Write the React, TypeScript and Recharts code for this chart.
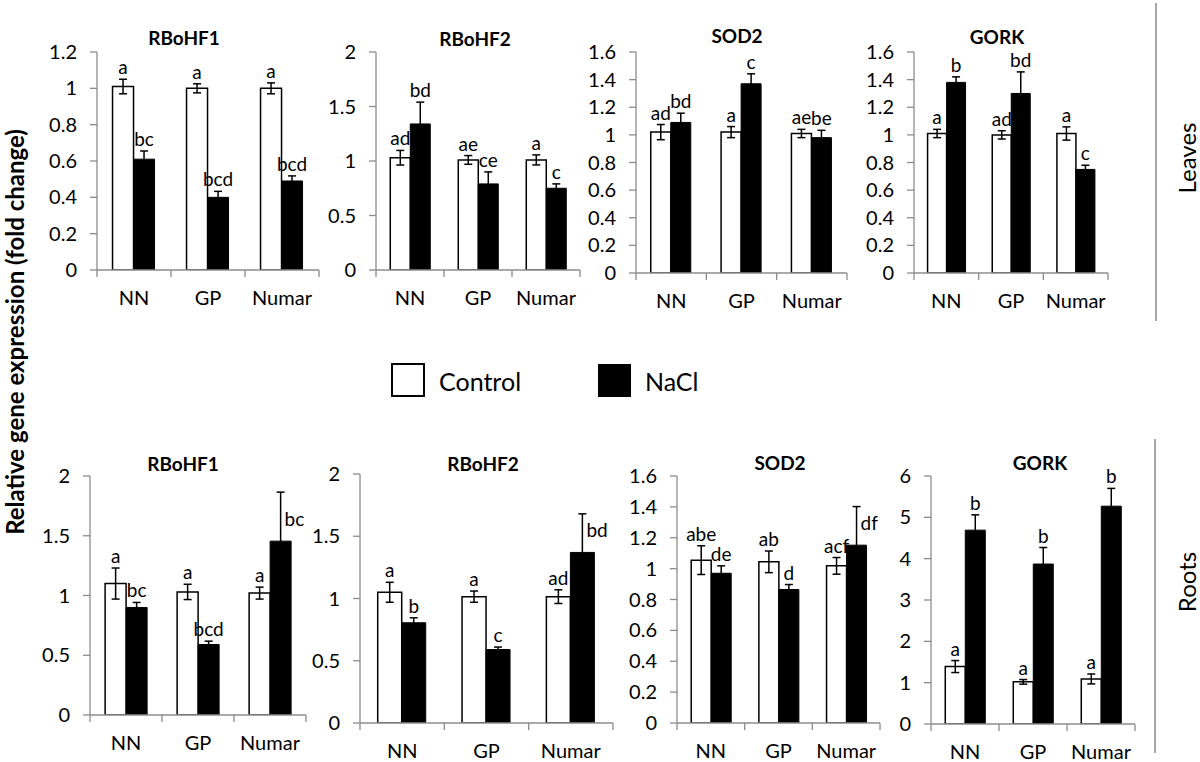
import React from 'react';
import { BarChart, Bar, XAxis, YAxis, ErrorBar, LabelList } from 'recharts';

const FONT = 'Lato, "Liberation Sans", sans-serif';
const AXIS_GREY = '#8c8c8c';

const categories = ['NN', 'GP', 'Numar'];

// ---- Leaves ----
const leafRboh1Control = [1.01, 1.0, 1.0];
const leafRboh1ControlErr = [0.04, 0.025, 0.03];
const leafRboh1Nacl = [0.61, 0.4, 0.49];
const leafRboh1NaclErr = [0.045, 0.033, 0.028];
const leafRboh1ControlLetters = ['a', 'a', 'a'];
const leafRboh1NaclLetters = ['bc', 'bcd', 'bcd'];

const leafRboh2Control = [1.03, 1.01, 1.01];
const leafRboh2ControlErr = [0.067, 0.04, 0.046];
const leafRboh2Nacl = [1.34, 0.79, 0.75];
const leafRboh2NaclErr = [0.2, 0.11, 0.04];
const leafRboh2ControlLetters = ['ad', 'ae', 'a'];
const leafRboh2NaclLetters = ['bd', 'ce', 'c'];

const leafSodControl = [1.02, 1.02, 1.01];
const leafSodControlErr = [0.055, 0.04, 0.03];
const leafSodNacl = [1.09, 1.37, 0.98];
const leafSodNaclErr = [0.067, 0.072, 0.053];
const leafSodControlLetters = ['ad', 'a', 'ae'];
const leafSodNaclLetters = ['bd', 'c', 'be'];

const leafGorkControl = [1.01, 1.0, 1.01];
const leafGorkControlErr = [0.03, 0.03, 0.048];
const leafGorkNacl = [1.38, 1.3, 0.75];
const leafGorkNaclErr = [0.04, 0.156, 0.03];
const leafGorkControlLetters = ['a', 'ad', 'a'];
const leafGorkNaclLetters = ['b', 'bd', 'c'];

// ---- Roots ----
const rootRboh1Control = [1.1, 1.03, 1.02];
const rootRboh1ControlErr = [0.13, 0.064, 0.05];
const rootRboh1Nacl = [0.9, 0.59, 1.455];
const rootRboh1NaclErr = [0.042, 0.028, 0.41];
const rootRboh1ControlLetters = ['a', 'a', 'a'];
const rootRboh1NaclLetters = ['bc', 'bcd', 'bc'];

const rootRboh2Control = [1.05, 1.015, 1.015];
const rootRboh2ControlErr = [0.08, 0.045, 0.055];
const rootRboh2Nacl = [0.805, 0.59, 1.37];
const rootRboh2NaclErr = [0.04, 0.02, 0.31];
const rootRboh2ControlLetters = ['a', 'a', 'ad'];
const rootRboh2NaclLetters = ['b', 'c', 'bd'];

const rootSodControl = [1.055, 1.044, 1.018];
const rootSodControlErr = [0.093, 0.07, 0.054];
const rootSodNacl = [0.97, 0.865, 1.152];
const rootSodNaclErr = [0.048, 0.032, 0.25];
const rootSodControlLetters = ['abe', 'ab', 'acf'];
const rootSodNaclLetters = ['de', 'd', 'df'];

const rootGorkControl = [1.39, 1.02, 1.09];
const rootGorkControlErr = [0.145, 0.056, 0.12];
const rootGorkNacl = [4.69, 3.87, 5.27];
const rootGorkNaclErr = [0.37, 0.4, 0.43];
const rootGorkControlLetters = ['a', 'a', 'a'];
const rootGorkNaclLetters = ['b', 'b', 'b'];

// tick labels
const ticks12 = [0, 0.2, 0.4, 0.6, 0.8, 1, 1.2];
const ticks16 = [0, 0.2, 0.4, 0.6, 0.8, 1, 1.2, 1.4, 1.6];
const ticks2 = [0, 0.5, 1, 1.5, 2];
const ticks6 = [0, 1, 2, 3, 4, 5, 6];

const Y_AXIS_W = 62;
const M_TOP = 34;
const M_RIGHT = 12;
const X_AXIS_H = 40;

// Excel-style category axis: label in the middle, tick marks on the category edges
function CatTick(props: any) {
  const { x, y, payload, index, bandW } = props;
  const left = x - bandW / 2;
  const right = x + bandW / 2;
  return (
    <g>
      <line x1={left} x2={left} y1={y} y2={y + 7} stroke={AXIS_GREY} strokeWidth={1.3} />
      {index === categories.length - 1 && (
        <line x1={right} x2={right} y1={y} y2={y + 7} stroke={AXIS_GREY} strokeWidth={1.3} />
      )}
      <text x={x} y={y + 35} textAnchor="middle" fontSize={20} fontFamily={FONT} fill="#000">
        {payload.value}
      </text>
    </g>
  );
}

type PanelProps = {
  title: string;
  yTicks: number[];
  control: number[];
  controlErr: number[];
  nacl: number[];
  naclErr: number[];
  controlLetters: string[];
  naclLetters: string[];
  axisX: number;
  right: number;
  top: number;
  bottom: number;
  titleX: number;
  titleY: number;
};

function Panel(p: PanelProps) {
  const plotW = p.right - p.axisX;
  const plotH = p.bottom - p.top;
  const yMax = p.yTicks[p.yTicks.length - 1];
  const data = categories.map((name, i) => ({
    name,
    control: p.control[i],
    controlErr: p.controlErr[i],
    nacl: p.nacl[i],
    naclErr: p.naclErr[i],
  }));

  const letter = (letters: string[], errs: number[]) => (props: any) => {
    const { x, y, width, index } = props;
    const cx = Number(x) + Number(width) / 2;
    const err = errs[index];
    // long whiskers: letter sits beside the whisker, just above the bar
    if (err / yMax > 0.12) {
      return (
        <text x={cx + 4} y={Number(y) - 15} textAnchor="start" fontSize={19} fontFamily={FONT} fill="#000">
          {letters[index]}
        </text>
      );
    }
    const errPx = (err / yMax) * plotH;
    return (
      <text x={cx} y={Number(y) - errPx - 5} textAnchor="middle" fontSize={19} fontFamily={FONT} fill="#000">
        {letters[index]}
      </text>
    );
  };

  return (
    <>
      <div style={{ position: 'absolute', left: p.axisX - Y_AXIS_W, top: p.top - M_TOP }}>
        <BarChart
          width={Y_AXIS_W + plotW + M_RIGHT}
          height={M_TOP + plotH + X_AXIS_H}
          data={data}
          margin={{ top: M_TOP, right: M_RIGHT, left: 0, bottom: 0 }}
          barCategoryGap="21%"
          barGap={0}
          style={{ overflow: 'visible' }}
        >
          <XAxis
            dataKey="name"
            interval={0}
            height={X_AXIS_H}
            tickSize={0}
            tickMargin={0}
            tickLine={false}
            axisLine={{ stroke: AXIS_GREY, strokeWidth: 1.3 }}
            tick={<CatTick bandW={plotW / categories.length} />}
          />
          <YAxis
            domain={[0, yMax]}
            ticks={p.yTicks}
            interval={0}
            allowDataOverflow
            width={Y_AXIS_W}
            tickSize={7}
            tickMargin={13}
            axisLine={{ stroke: AXIS_GREY, strokeWidth: 1.3 }}
            tickLine={{ stroke: AXIS_GREY, strokeWidth: 1.3 }}
            tick={{ fill: '#000', fontSize: 20, fontFamily: FONT }}
          />
          <Bar dataKey="control" fill="#fff" stroke="#000" strokeWidth={1.5} isAnimationActive={false}>
            <ErrorBar dataKey="controlErr" direction="y" width={4} stroke="#000" strokeWidth={1.5} />
            <LabelList dataKey="control" content={letter(p.controlLetters, p.controlErr)} />
          </Bar>
          <Bar dataKey="nacl" fill="#000" stroke="#000" strokeWidth={1} isAnimationActive={false}>
            <ErrorBar dataKey="naclErr" direction="y" width={4} stroke="#000" strokeWidth={1.5} />
            <LabelList dataKey="nacl" content={letter(p.naclLetters, p.naclErr)} />
          </Bar>
        </BarChart>
      </div>
      <div
        style={{
          position: 'absolute',
          left: p.titleX,
          top: p.titleY,
          transform: 'translate(-50%, -50%)',
          fontFamily: FONT,
          fontWeight: 'bold',
          fontSize: 19,
          whiteSpace: 'nowrap',
          lineHeight: 1,
        }}
      >
        {p.title}
      </div>
    </>
  );
}

export default function App() {
  return (
    <div style={{ position: 'absolute', left: 0, top: 0, width: 1200, height: 762, background: '#fff', overflow: 'hidden' }}>
      <svg width={1200} height={762} style={{ position: 'absolute', left: 0, top: 0 }}>
        <text
          transform="translate(14,332) rotate(-90)"
          textAnchor="middle"
          dominantBaseline="central"
          fontFamily={FONT}
          fontWeight="bold"
          fontSize={24}
          fill="#000"
        >
          Relative gene expression (fold change)
        </text>
        <line x1={1156} x2={1156} y1={3} y2={321} stroke="#a6a6a6" strokeWidth={2} />
        <line x1={1155} x2={1155} y1={439} y2={753} stroke="#a6a6a6" strokeWidth={2} />
        <text transform="translate(1186,158) rotate(-90)" textAnchor="middle" dominantBaseline="central" fontFamily={FONT} fontSize={24} fill="#000">
          Leaves
        </text>
        <text transform="translate(1186,582) rotate(-90)" textAnchor="middle" dominantBaseline="central" fontFamily={FONT} fontSize={24} fill="#000">
          Roots
        </text>
        <rect x={392} y={364} width={32} height={32} fill="#fff" stroke="#000" strokeWidth={2} />
        <text x={439} y={381} dominantBaseline="central" fontFamily={FONT} fontSize={25} fill="#000">Control</text>
        <rect x={598} y={364} width={33} height={33} fill="#000" />
        <text x={645} y={381} dominantBaseline="central" fontFamily={FONT} fontSize={25} fill="#000">NaCl</text>
      </svg>

      <Panel title="RBoHF1" yTicks={ticks12} control={leafRboh1Control} controlErr={leafRboh1ControlErr} nacl={leafRboh1Nacl} naclErr={leafRboh1NaclErr}
        controlLetters={leafRboh1ControlLetters} naclLetters={leafRboh1NaclLetters} axisX={97} right={319} top={52} bottom={270} titleX={184} titleY={37} />
      <Panel title="RBoHF2" yTicks={ticks2} control={leafRboh2Control} controlErr={leafRboh2ControlErr} nacl={leafRboh2Nacl} naclErr={leafRboh2NaclErr}
        controlLetters={leafRboh2ControlLetters} naclLetters={leafRboh2NaclLetters} axisX={376} right={580} top={52} bottom={270} titleX={475} titleY={38} />
      <Panel title="SOD2" yTicks={ticks16} control={leafSodControl} controlErr={leafSodControlErr} nacl={leafSodNacl} naclErr={leafSodNaclErr}
        controlLetters={leafSodControlLetters} naclLetters={leafSodNaclLetters} axisX={636} right={847} top={52} bottom={273} titleX={737} titleY={35} />
      <Panel title="GORK" yTicks={ticks16} control={leafGorkControl} controlErr={leafGorkControlErr} nacl={leafGorkNacl} naclErr={leafGorkNaclErr}
        controlLetters={leafGorkControlLetters} naclLetters={leafGorkNaclLetters} axisX={914} right={1108} top={52} bottom={273} titleX={997} titleY={36} />

      <Panel title="RBoHF1" yTicks={ticks2} control={rootRboh1Control} controlErr={rootRboh1ControlErr} nacl={rootRboh1Nacl} naclErr={rootRboh1NaclErr}
        controlLetters={rootRboh1ControlLetters} naclLetters={rootRboh1NaclLetters} axisX={90} right={306} top={476} bottom={715} titleX={183} titleY={463} />
      <Panel title="RBoHF2" yTicks={ticks2} control={rootRboh2Control} controlErr={rootRboh2ControlErr} nacl={rootRboh2Nacl} naclErr={rootRboh2NaclErr}
        controlLetters={rootRboh2ControlLetters} naclLetters={rootRboh2NaclLetters} axisX={360} right={613} top={474} bottom={723} titleX={483} titleY={463} />
      <Panel title="SOD2" yTicks={ticks16} control={rootSodControl} controlErr={rootSodControlErr} nacl={rootSodNacl} naclErr={rootSodNaclErr}
        controlLetters={rootSodControlLetters} naclLetters={rootSodNaclLetters} axisX={677} right={880} top={476} bottom={723} titleX={780} titleY={462} />
      <Panel title="GORK" yTicks={ticks6} control={rootGorkControl} controlErr={rootGorkControlErr} nacl={rootGorkNacl} naclErr={rootGorkNaclErr}
        controlLetters={rootGorkControlLetters} naclLetters={rootGorkNaclLetters} axisX={931} right={1135} top={476} bottom={724} titleX={1040} titleY={462} />
    </div>
  );
}
